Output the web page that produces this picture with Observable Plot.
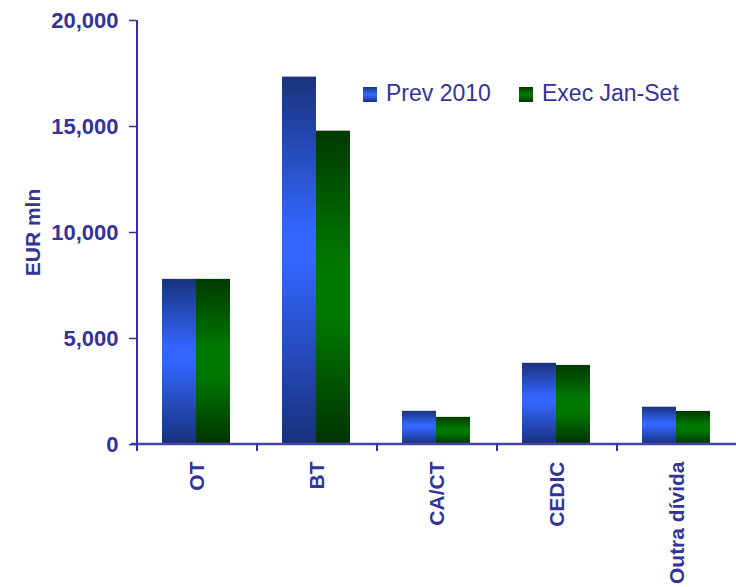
<!DOCTYPE html>
<html>
<head>
<meta charset="utf-8">
<script src="https://cdn.jsdelivr.net/npm/d3@7"></script>
<script src="https://cdn.jsdelivr.net/npm/@observablehq/plot@0.6"></script>
<style>
  html, body { margin: 0; padding: 0; background: #fff; }
  #wrap { position: relative; width: 736px; height: 587px; overflow: hidden; }
  .legend { position: absolute; font-family: "Liberation Sans", Arial, sans-serif; font-size: 23px; color: #333399; line-height: 23px; white-space: nowrap; }
  .sw { position: absolute; width: 14px; height: 15px; }
</style>
</head>
<body>
<div id="wrap"></div>
<script>
const categories = ["OT", "BT", "CA/CT", "CEDIC", "Outra dívida"];
const seriesNames = ["Prev 2010", "Exec Jan-Set"];
const prev2010 = [7790, 17330, 1565, 3830, 1760];
const execJanSet = [7790, 14780, 1280, 3730, 1560];
const yTicks = [0, 5000, 10000, 15000, 20000];
const yLabel = "EUR mln";

const axisColor = "#333399";

const prevData = categories.map((c, i) => ({category: c, value: prev2010[i]}));
const execData = categories.map((c, i) => ({category: c, value: execJanSet[i]}));

function defsMark() {
  const defs = d3.create("svg:defs");
  const gb = defs.append("linearGradient").attr("id", "gBlue").attr("x1", 0).attr("x2", 0).attr("y1", 0).attr("y2", 1);
  [[0, "#1a337d"], [0.42, "#3366ff"], [0.5, "#3366ff"], [1, "#18307a"]].forEach(([o, c]) =>
    gb.append("stop").attr("offset", o).attr("stop-color", c));
  const gg = defs.append("linearGradient").attr("id", "gGreen").attr("x1", 0).attr("x2", 0).attr("y1", 0).attr("y2", 1);
  [[0, "#003a00"], [0.42, "#007800"], [0.6, "#007800"], [1, "#003300"]].forEach(([o, c]) =>
    gg.append("stop").attr("offset", o).attr("stop-color", c));
  return defs.node();
}

function axesMark(index, scales, values, dims) {
  const x = scales.x, y = scales.y;
  const bw = (x && typeof x.bandwidth === "function") ? x.bandwidth()
    : (dims.width - dims.marginLeft - dims.marginRight) / categories.length;
  const y0 = y(0);
  const yTop = y(yTicks[yTicks.length - 1]);
  const x0 = x(categories[0]);
  const g = d3.create("svg:g").attr("stroke", axisColor).attr("fill", "none");
  g.append("line").attr("x1", x0).attr("x2", x0).attr("y1", yTop).attr("y2", y0 + 1).attr("stroke-width", 2);
  g.append("line").attr("x1", x0 - 6).attr("x2", x(categories[categories.length - 1]) + bw)
    .attr("y1", y0).attr("y2", y0).attr("stroke-width", 2.5).attr("stroke", "#4545a6");
  const edges = categories.map(c => x(c));
  g.selectAll("line.t").data(edges).join("line").attr("class", "t")
    .attr("x1", d => d).attr("x2", d => d).attr("y1", y0).attr("y2", y0 + 7).attr("stroke-width", 2);
  return g.node();
}

const chart = Plot.plot({
  width: 736,
  height: 587,
  marginTop: 20,
  marginBottom: 143,
  marginLeft: 136,
  marginRight: -2,
  style: {fontFamily: "'Liberation Sans', Arial, sans-serif", fontWeight: "bold", color: axisColor, background: "white", overflow: "visible"},
  x: {type: "band", domain: categories, padding: 0, label: null},
  y: {domain: [0, 20000], label: null},
  marks: [
    defsMark,
    Plot.barY(prevData, {x: "category", y: "value", fill: "url(#gBlue)", insetLeft: 25, insetRight: 61}),
    Plot.barY(execData, {x: "category", y: "value", fill: "url(#gGreen)", insetLeft: 59, insetRight: 27}),
    axesMark,
    Plot.axisY({ticks: yTicks, tickFormat: d3.format(","), tickSize: 7, tickPadding: 11, fontSize: 22, fontWeight: "bold", strokeWidth: 1.5, label: null}),
    Plot.axisX({tickRotate: -90, tickSize: 0, tickPadding: 17, fontSize: 21, fontWeight: "bold", label: null}),
    Plot.text([yLabel], {frameAnchor: "left", text: d => d, rotate: -90, textAnchor: "middle", dx: -103, fontSize: 21, fontWeight: "bold", fill: axisColor})
  ]
});

const wrap = document.getElementById("wrap");
wrap.appendChild(chart);

function addLegend(left, swLeft, label, grad) {
  const sw = document.createElement("div");
  sw.className = "sw";
  sw.style.left = swLeft + "px";
  sw.style.top = "87px";
  sw.style.background = grad;
  wrap.appendChild(sw);
  const t = document.createElement("div");
  t.className = "legend";
  t.style.left = left + "px";
  t.style.top = "82px";
  t.textContent = label;
  wrap.appendChild(t);
}
addLegend(386, 363, seriesNames[0], "linear-gradient(#1a337d, #3366ff 45%, #3366ff 55%, #18307a)");
addLegend(542, 519, seriesNames[1], "linear-gradient(#003a00, #007800 45%, #007800 55%, #003300)");
</script>
</body>
</html>
